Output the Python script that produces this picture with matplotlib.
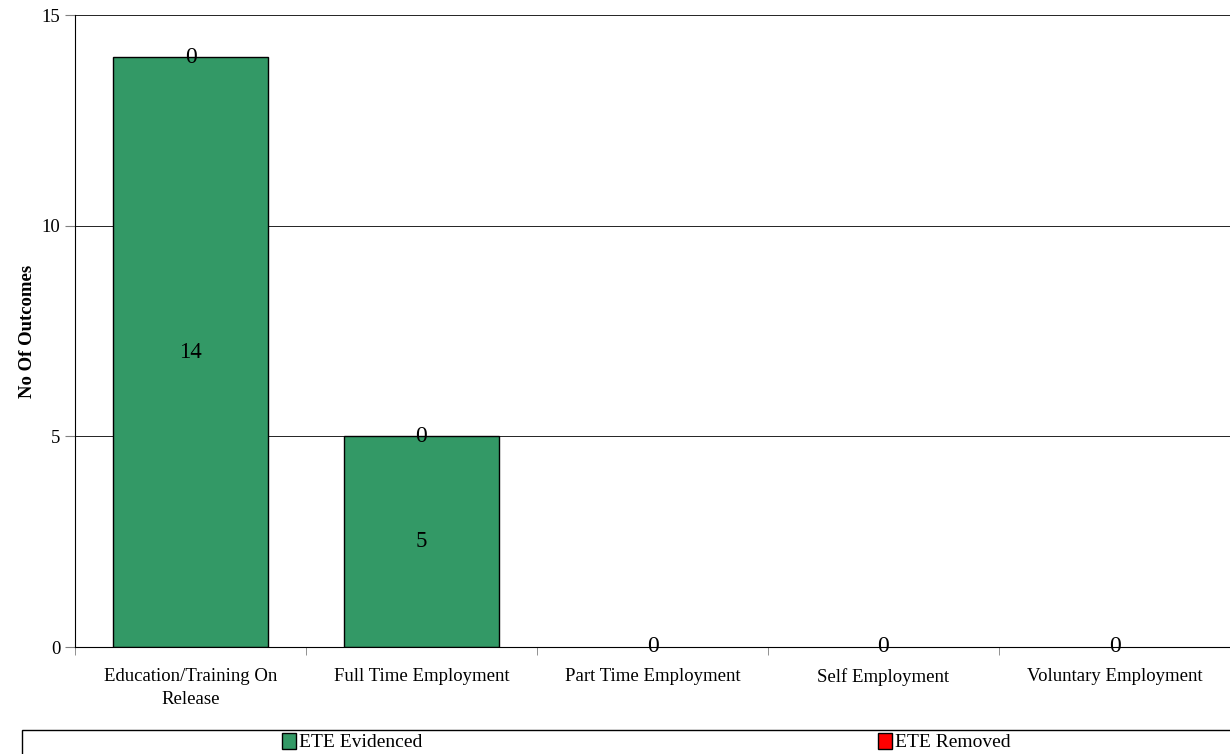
import matplotlib.pyplot as plt
from matplotlib.patches import Rectangle, Patch
import numpy as np

categories = ["Education/Training On\nRelease", "Full Time Employment",
              "Part Time Employment", "Self Employment", "Voluntary Employment"]
evidenced = [14, 5, 0, 0, 0]
removed = [0, 0, 0, 0, 0]

plt.rcParams['font.family'] = ['Liberation Serif', 'DejaVu Serif']

fig = plt.figure(figsize=(12.3, 7.54), dpi=100)
ax = fig.add_axes([75 / 1230, 1 - 647 / 754, 1155 / 1230, 632 / 754])

x = np.arange(len(categories))
width = 0.675
green = '#339966'
red = '#ff0000'

lw_g = [1 if v > 0 else 0 for v in evidenced]
lw_r = [1 if v > 0 else 0 for v in removed]
ax.bar(x, evidenced, width, color=green, edgecolor='black', linewidth=lw_g)
ax.bar(x, removed, width, bottom=evidenced, color=red, edgecolor='black', linewidth=lw_r)

# labels in the middle of the green bars
for xi, v in zip(x, evidenced):
    if v > 0:
        ax.text(xi, v / 2, str(v), ha='center', va='center', fontsize=16.5)
# labels for the red (zero) segments sit on top
for xi, v, r in zip(x, evidenced, removed):
    ax.text(xi, v + r / 2, str(r), ha='center', va='center', fontsize=17)

ax.set_xlim(-0.5, len(categories) - 0.5)
ax.set_ylim(0, 15)
ax.set_yticks([0, 5, 10, 15])
ax.yaxis.grid(True, color='black', linewidth=0.6)
ax.set_axisbelow(True)

ax.set_xticks(x)
ax.set_xticklabels(categories, fontsize=13.5, linespacing=1.45)
ax.set_xticks(np.arange(len(categories) + 1) - 0.5, minor=True)
ax.tick_params(axis='x', which='major', length=0, pad=15)
ax.tick_params(axis='x', which='minor', length=6, color='gray')
ax.tick_params(axis='y', labelsize=13.5, length=7, color='gray')

for s in ['top', 'right']:
    ax.spines[s].set_visible(False)
ax.spines['left'].set_color('black')
ax.spines['bottom'].set_color('black')

ax.set_ylabel('No Of Outcomes', fontsize=13.5, fontweight='bold', labelpad=4)

# legend box along the bottom
fig.patches.append(Rectangle((22 / 1230, -0.01), 1.1, (754 - 730) / 754 + 0.01,
                             transform=fig.transFigure, fill=False, edgecolor='black', linewidth=1))
handles = [Patch(facecolor=green, edgecolor='black', label='ETE Evidenced'),
           Patch(facecolor=red, edgecolor='black', label='ETE Removed')]
for h, xpos in zip(handles, [282 / 1230, 878 / 1230]):
    fig.legend(handles=[h], loc='center left', bbox_to_anchor=(xpos, 12 / 754),
               frameon=False, fontsize=14, handlelength=0.7, handleheight=0.9,
               handletextpad=0.15, borderaxespad=0, borderpad=0)

fig.savefig('out.png', dpi=100)
